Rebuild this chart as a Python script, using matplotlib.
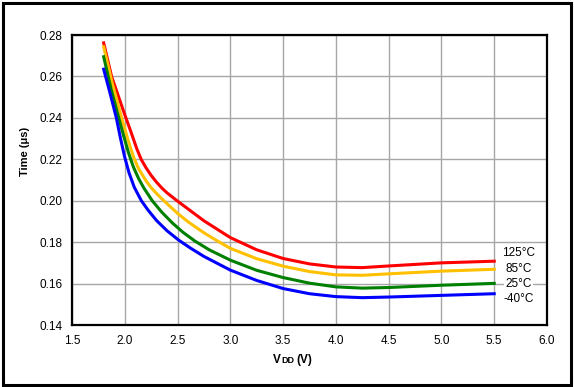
import matplotlib
matplotlib.use('Agg')
import matplotlib.pyplot as plt
from matplotlib.patches import Rectangle

# VDD (V) and Time (us), one pair of lists per temperature
vdd_125 = [1.8, 1.875, 2.0, 2.06, 2.113, 2.155, 2.2, 2.25, 2.3, 2.35, 2.4, 2.5, 2.6,
           2.75, 3.0, 3.25, 3.5, 3.75, 4.0, 4.25, 4.5, 5.0, 5.5]
t_125 = [0.2762, 0.2600, 0.2415, 0.2330, 0.2252, 0.2200, 0.2160, 0.2122, 0.2090, 0.2062,
         0.2038, 0.1998, 0.1960, 0.1903, 0.1822, 0.1763, 0.1721, 0.1695, 0.1680, 0.1677,
         0.1685, 0.1700, 0.1708]

vdd_85 = [1.8, 1.88, 1.97, 2.03, 2.08, 2.13, 2.2, 2.25, 2.3, 2.37, 2.5, 2.6, 2.75,
          2.87, 3.0, 3.25, 3.5, 3.75, 4.0, 4.25, 4.5, 5.0, 5.5]
t_85 = [0.2743, 0.2570, 0.2400, 0.2295, 0.2215, 0.2155, 0.2097, 0.2063, 0.2035, 0.2000,
        0.1939, 0.1898, 0.1845, 0.1808, 0.1770, 0.1720, 0.1684, 0.1658, 0.1642, 0.1640,
        0.1647, 0.1660, 0.1669]

vdd_25 = [1.8, 1.87, 1.943, 1.99, 2.035, 2.08, 2.13, 2.18, 2.26, 2.35, 2.45, 2.55, 2.665,
          2.8, 3.0, 3.25, 3.5, 3.75, 4.0, 4.25, 4.5, 5.0, 5.5]
t_25 = [0.2695, 0.2540, 0.2400, 0.2312, 0.2232, 0.2165, 0.2108, 0.2062, 0.2000, 0.1945,
        0.1893, 0.1848, 0.1805, 0.1763, 0.1713, 0.1664, 0.1629, 0.1602, 0.1584, 0.1578,
        0.1581, 0.1592, 0.1601]

vdd_m40 = [1.8, 1.86, 1.92, 1.96, 1.997, 2.04, 2.09, 2.157, 2.22, 2.3, 2.4, 2.51, 2.62,
           2.75, 3.0, 3.25, 3.5, 3.75, 4.0, 4.25, 4.5, 5.0, 5.5]
t_m40 = [0.2635, 0.2520, 0.2400, 0.2300, 0.2215, 0.2135, 0.2065, 0.2000, 0.1955, 0.1905,
         0.1855, 0.1810, 0.1772, 0.1731, 0.1665, 0.1615, 0.1576, 0.1551, 0.1537, 0.1532,
         0.1535, 0.1543, 0.1551]

labels = ['125°C', '85°C', '25°C', '-40°C']
label_y = [0.1746, 0.1669, 0.1598, 0.1524]
colors = ['#FF0000', '#FFC000', '#008000', '#0000FF']

xticks = [1.5, 2.0, 2.5, 3.0, 3.5, 4.0, 4.5, 5.0, 5.5, 6.0]
yticks = [0.14, 0.16, 0.18, 0.20, 0.22, 0.24, 0.26, 0.28]

plt.rcParams['font.family'] = ['Liberation Sans', 'DejaVu Sans']

fig = plt.figure(figsize=(5.74, 3.87), dpi=100)
W, H = 574, 387

# outer frame
fig.patches.append(Rectangle((3 / W, 2 / H), 568 / W, 382 / H, transform=fig.transFigure,
                             fill=False, edgecolor='black', linewidth=2.2, zorder=5))

ax = fig.add_axes([72 / W, 62 / H, 475 / W, 290 / H])
series = [(vdd_125, t_125), (vdd_85, t_85), (vdd_25, t_25), (vdd_m40, t_m40)]
for (xs, ys), c in zip(series, colors):
    ax.plot(xs, ys, color=c, linewidth=2.2, solid_joinstyle='round', zorder=3)

for lab, ly in zip(labels, label_y):
    ax.text(5.733, ly, lab, fontsize=8.5, ha='center', va='center', zorder=4,
            bbox=dict(facecolor='white', edgecolor='none', pad=1.0))

ax.set_xlim(1.5, 6.0)
ax.set_ylim(0.14, 0.28)
ax.set_xticks(xticks)
ax.set_yticks(yticks)
ax.set_xticklabels(['%.1f' % v for v in xticks], fontsize=8.5)
ax.set_yticklabels(['%.2f' % v for v in yticks], fontsize=8.5)
ax.tick_params(length=0, pad=7)
ax.grid(True, color='#A6A6A6', linewidth=1.0, zorder=1)
ax.set_axisbelow(True)
for sp in ax.spines.values():
    sp.set_linewidth(1.6)
    sp.set_color('black')

# axis titles
fig.text(25 / W, 1 - 151 / H, 'Time (μs)', rotation=90, fontsize=8, fontweight='bold',
         ha='center', va='center')
base = 1 - 363 / H
fig.text(273 / W, base, 'V', fontsize=8.5, fontweight='bold', ha='left', va='baseline')
fig.text(281 / W, base, 'DD', fontsize=6.5, fontweight='bold', ha='left', va='baseline')
fig.text(296 / W, base, '(V)', fontsize=8.5, fontweight='bold', ha='left', va='baseline')

fig.savefig('out.png', dpi=100)
